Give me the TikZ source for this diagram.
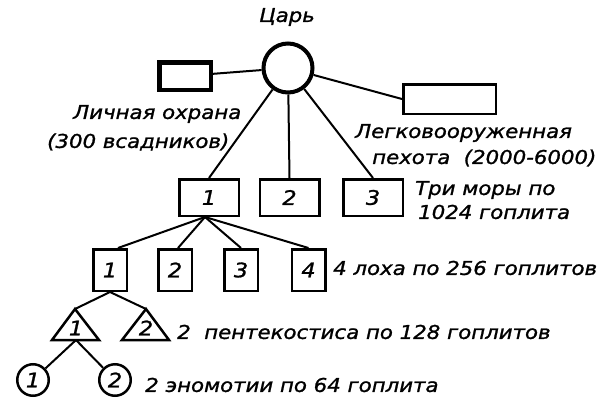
\documentclass[tikz,border=0pt]{standalone}
\usepackage{fontspec}
\setmainfont{DejaVu Sans}[FakeStretch=1.12, FakeBold=1.2]
\usetikzlibrary{calc}
\begin{document}
\begin{tikzpicture}[x=1pt,y=-1pt,
  lbl/.style={font=\itshape\fontsize{19}{20}\selectfont, inner sep=0pt, anchor=west},
  num/.style={font=\itshape\fontsize{20}{20}\selectfont, inner sep=0pt},
  box/.style={draw, line width=2.5pt, inner sep=0pt, minimum width=#1, font=\itshape\fontsize{20}{20}\selectfont},
  mbox/.style={box=59.5pt, minimum height=36.5pt},
  lbox/.style={box=33.5pt, minimum height=41.5pt},
  ring/.style={draw, circle, line width=2.5pt, inner sep=0pt, minimum size=31.5pt, font=\itshape\fontsize{20}{20}\selectfont},
  tri/.style={draw, line width=2.5pt, line join=miter},
  conn/.style={line width=2pt}
]
\useasboundingbox (0,0) rectangle (606,402);

% top
\node[draw, circle, line width=4pt, minimum size=49pt, inner sep=0pt] (king) at (288,68) {};
\node[font=\itshape\fontsize{19}{20}\selectfont, inner sep=0pt] (kingl) at (287,17) {Царь};
\node[draw, line width=4.5pt, minimum width=51.5pt, minimum height=27.5pt, inner sep=0pt] (guard) at (185,76) {};
\node[box=92.5pt, minimum height=29.5pt] (light) at (449.5,99) {};

\node[lbl] (gl1) at (73,114) {Личная охрана};
\node[lbl] (gl2) at (47,142) {(300 всадников)};
\node[lbl] (ll1) at (355,133) {Легковооруженная};
\node[lbl] (ll2) at (372,158) {пехота\ \ (2000-6000)};

% morai
\node[mbox] (m1) at (209,197.5) {1};
\node[mbox] (m2) at (289.5,197.5) {2};
\node[mbox] (m3) at (373,197.5) {3};
\node[lbl] (ml1) at (415,190) {Три моры по};
\node[lbl] (ml2) at (418,212) {1024 гоплита};

% lochoi
\node[lbox] (l1) at (110,270) {1};
\node[lbox] (l2) at (175,270) {2};
\node[lbox] (l3) at (241,270) {3};
\node[lbox] (l4) at (308.5,270) {4};
\node[lbl] (lol) at (333,268) {4 лоха по 256 гоплитов};

% pentekostyes
\coordinate (t1a) at (75,309);
\coordinate (t1b) at (76,340);
\coordinate (t2a) at (146,309);
\draw[tri] (52,340) -- (t1a) -- (99,340) -- cycle;
\draw[tri] (122,340) -- (t2a) -- (169,340) -- cycle;
\node[num] (t1) at (76,328) {1};
\node[num] (t2) at (146,328) {2};
\node[lbl] (tl) at (177,332) {2\ \ пентекостиса по 128 гоплитов};

% enomotiai
\node[ring] (c1) at (33,380) {1};
\node[ring] (c2) at (115,380) {2};
\node[lbl] (cl) at (145,385) {2 эномотии по 64 гоплита};

% connectors
\draw[conn] (king) -- (guard);
\draw[conn] (king) -- (light.west);
\draw[conn] (king) -- (m1.north);
\draw[conn] (king) -- (m2.north);
\draw[conn] (king) -- (m3.north);
\draw[conn] ($(m1.south)+(-4,0)$) -- ($(l1.north)+(8,0)$);
\draw[conn] ($(m1.south)+(-4,0)$) -- ($(l2.north)+(3,0)$);
\draw[conn] ($(m1.south)+(-4,0)$) -- (l3.north);
\draw[conn] ($(m1.south)+(-4,0)$) -- (l4.north);
\draw[conn] (l1.south) -- (t1a);
\draw[conn] (l1.south) -- (t2a);
\draw[conn] (t1b) -- (c1);
\draw[conn] (t1b) -- (c2);
\end{tikzpicture}
\end{document}
